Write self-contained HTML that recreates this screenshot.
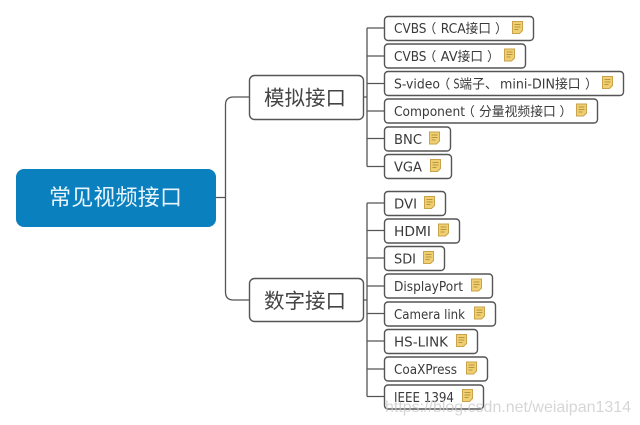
<!DOCTYPE html>
<html>
<head>
<meta charset="utf-8">
<style>
html,body{margin:0;padding:0;background:#fff;width:640px;height:425px;overflow:hidden}
svg{display:block}
text{font-family:"Liberation Sans","Noto Sans CJK SC",sans-serif}
.l{font-family:"DejaVu Sans","Noto Sans CJK SC",sans-serif;font-size:13px;fill:#3a3a3a}
.k{font-family:"Noto Sans CJK SC",sans-serif;font-size:12.800px;fill:#3a3a3a}
.b{fill:#fff;stroke:#555;stroke-width:1.4}
.c{fill:none;stroke:#555;stroke-width:1.3}
.n{fill:#f0cf70;stroke:#c9a24a;stroke-width:1}
.m{stroke:#a5822f;stroke-width:.8}
</style>
</head>
<body>
<svg width="640" height="425" viewBox="0 0 640 425" xmlns="http://www.w3.org/2000/svg">
<defs>
<g id="note">
<path class="n" d="M.5.5H10.500V9.500L7.500 12.500H.5Z"/>
<path class="m" d="M2.500 3.500H8.500M2.500 6H8.500M2.500 8.500H6.500"/>
</g>
</defs>

<!-- connectors -->
<path class="c" d="M216 197.500H225.500M249 97H233.500Q225.500 97 225.500 105V292Q225.500 300 233.500 300H249"/>
<path class="c" d="M363 97H367M367 28V166.500M367 28H384M367 56H384M367 83.500H384M367 111H384M367 138.500H384M367 166.500H384"/>
<path class="c" d="M363 300H367M367 203V396.500M367 203H384M367 230.500H384M367 258H384M367 286H384M367 313.500H384M367 341H384M367 369H384M367 396.500H384"/>

<!-- root -->
<rect x="16" y="169" width="200" height="58" rx="8" fill="#0a80bf"/>
<text x="49" y="205" font-size="22" fill="#e9f5fb" textLength="133" lengthAdjust="spacing">常见视频接口</text>

<!-- branches -->
<rect class="b" x="249.500" y="75.500" width="114" height="44" rx="5"/>
<text x="264" y="105" font-size="20.500" fill="#444" textLength="82" lengthAdjust="spacing">模拟接口</text>
<rect class="b" x="249.500" y="278.500" width="114" height="43" rx="5"/>
<text x="264" y="308" font-size="20.500" fill="#444" textLength="82" lengthAdjust="spacing">数字接口</text>

<!-- analog leaves -->
<rect class="b" x="384.500" y="16.500" width="149" height="24" rx="3.500"/>
<text class="l" x="394" y="33" textLength="32.500" lengthAdjust="spacingAndGlyphs">CVBS</text>
<text class="k" x="423.500" y="33">（</text>
<text class="l" x="440.700" y="33" textLength="25" lengthAdjust="spacingAndGlyphs">RCA</text>
<text class="k" x="465.500" y="33">接口</text>
<text class="k" x="495" y="33">）</text>
<use href="#note" x="512" y="21"/>

<rect class="b" x="384.500" y="44" width="141" height="24" rx="3.500"/>
<text class="l" x="394" y="61" textLength="32.500" lengthAdjust="spacingAndGlyphs">CVBS</text>
<text class="k" x="423.500" y="61">（</text>
<text class="l" x="440.700" y="61" textLength="17" lengthAdjust="spacingAndGlyphs">AV</text>
<text class="k" x="457.500" y="61">接口</text>
<text class="k" x="487" y="61">）</text>
<use href="#note" x="504" y="48.500"/>

<rect class="b" x="384.500" y="71.500" width="239" height="24" rx="3.500"/>
<text class="l" x="394" y="88.500" textLength="46" lengthAdjust="spacingAndGlyphs">S-video</text>
<text class="k" x="437.500" y="88.500">（</text>
<text class="l" x="453.500" y="88.500" textLength="6" lengthAdjust="spacingAndGlyphs">S</text>
<text class="k" x="459.300" y="88.500">端子、</text>
<text class="l" x="500" y="88.500" textLength="55" lengthAdjust="spacingAndGlyphs">mini-DIN</text>
<text class="k" x="555" y="88.500">接口</text>
<text class="k" x="585" y="88.500">）</text>
<use href="#note" x="602" y="76"/>

<rect class="b" x="384.500" y="99" width="213" height="24" rx="3.500"/>
<text class="l" x="394" y="116" textLength="71" lengthAdjust="spacingAndGlyphs">Component</text>
<text class="k" x="462" y="116">（</text>
<text class="k" x="479" y="116">分量视频接口</text>
<text class="k" x="559.500" y="116">）</text>
<use href="#note" x="576" y="103.500"/>

<rect class="b" x="384.500" y="127" width="66" height="24" rx="3.500"/>
<text class="l" x="394" y="144" textLength="28" lengthAdjust="spacingAndGlyphs">BNC</text>
<use href="#note" x="429" y="131.500"/>

<rect class="b" x="384.500" y="154.500" width="67" height="24" rx="3.500"/>
<text class="l" x="394" y="171.500" textLength="28" lengthAdjust="spacingAndGlyphs">VGA</text>
<use href="#note" x="430" y="159"/>

<!-- digital leaves -->
<rect class="b" x="384.500" y="191.500" width="61" height="24" rx="3.500"/>
<text class="l" x="394" y="208.500" textLength="23" lengthAdjust="spacingAndGlyphs">DVI</text>
<use href="#note" x="424" y="196"/>

<rect class="b" x="384.500" y="219" width="75" height="24" rx="3.500"/>
<text class="l" x="394" y="236" textLength="37" lengthAdjust="spacingAndGlyphs">HDMI</text>
<use href="#note" x="438" y="223.500"/>

<rect class="b" x="384.500" y="246.500" width="60" height="24" rx="3.500"/>
<text class="l" x="394" y="263.500" textLength="22" lengthAdjust="spacingAndGlyphs">SDI</text>
<use href="#note" x="423" y="251"/>

<rect class="b" x="384.500" y="274" width="108" height="24" rx="3.500"/>
<text class="l" x="394" y="291" textLength="69" lengthAdjust="spacingAndGlyphs">DisplayPort</text>
<use href="#note" x="471" y="278.500"/>

<rect class="b" x="384.500" y="302" width="111" height="24" rx="3.500"/>
<text class="l" x="394" y="319" textLength="71" lengthAdjust="spacingAndGlyphs">Camera link</text>
<use href="#note" x="474" y="306.500"/>

<rect class="b" x="384.500" y="329.500" width="93" height="24" rx="3.500"/>
<text class="l" x="394" y="346.500" textLength="54" lengthAdjust="spacingAndGlyphs">HS-LINK</text>
<use href="#note" x="456" y="334"/>

<rect class="b" x="384.500" y="357" width="103" height="24" rx="3.500"/>
<text class="l" x="394" y="374" textLength="63" lengthAdjust="spacingAndGlyphs">CoaXPress</text>
<use href="#note" x="466" y="361.500"/>

<rect class="b" x="384.500" y="385" width="99" height="24" rx="3.500"/>
<text class="l" x="394" y="402" textLength="60" lengthAdjust="spacingAndGlyphs">IEEE 1394</text>
<use href="#note" x="462" y="389"/>

<!-- watermark -->
<text x="385" y="412" font-size="16" fill="#c8c8c8" fill-opacity=".75" textLength="246" lengthAdjust="spacingAndGlyphs">https://blog.csdn.net/weiaipan1314</text>
</svg>
</body>
</html>
